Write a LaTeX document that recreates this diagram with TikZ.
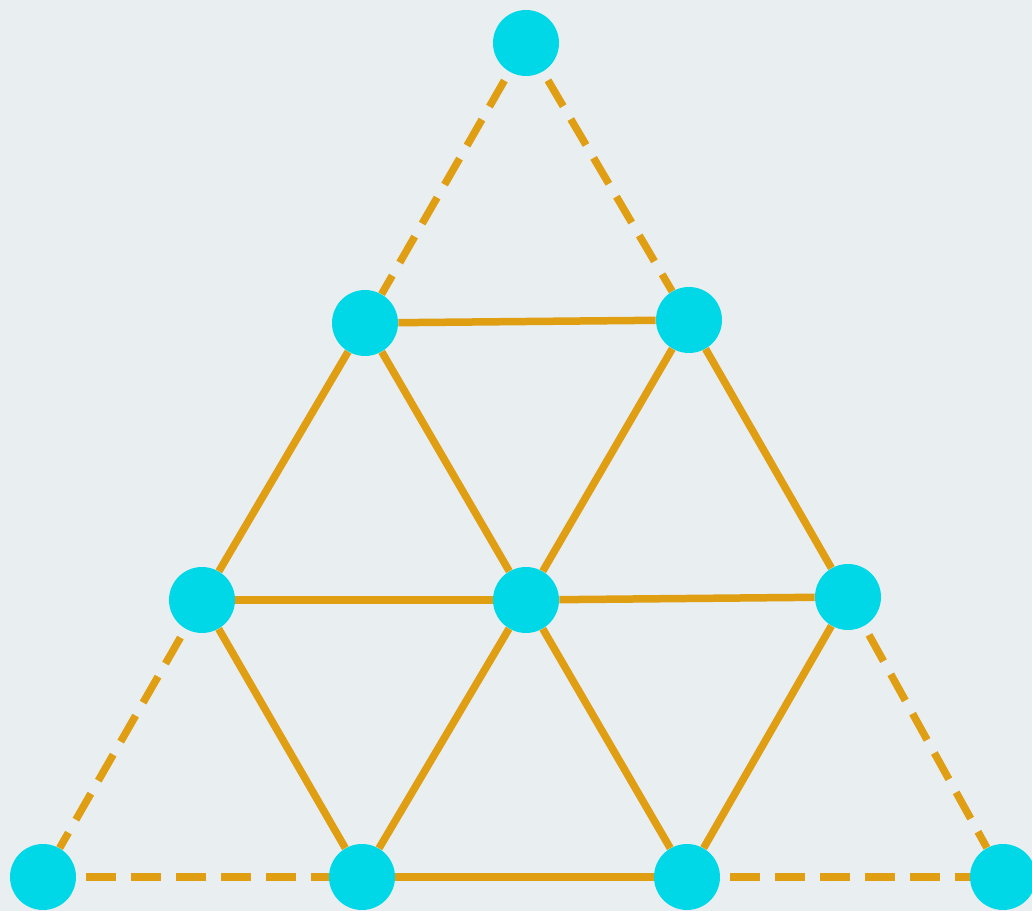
\documentclass[tikz,border=0pt]{standalone}
\usetikzlibrary{positioning}
\definecolor{bgpaper}{HTML}{E9EEF1}
\definecolor{dotcyan}{HTML}{00D8E8}
\definecolor{rodamber}{HTML}{E09E12}
\tikzset{
  pt/.style   ={circle, fill=dotcyan, draw=none, minimum size=1.32cm, inner sep=0pt},
  rod/.style  ={draw=rodamber, line width=0.15cm},
  rodd/.style ={rod, dash pattern=on 0.6cm off 0.3cm, dash phase=0.7cm}
}

\begin{document}
\begin{tikzpicture}[x=0.02cm, y=-0.02cm]
  \clip (0,0) rectangle (1032,911);
  \fill[bgpaper] (0,0) rectangle (1032,911);

  % nodes, row by row
  \node[pt] (t)  at (526,43)  {};
  \node[pt] (l2) at (365,323) {};
  \node[pt] (r2) at (689,320) {};
  \node[pt] (l3) at (202,600) {};
  \node[pt] (m3) at (526,600) {};
  \node[pt] (r3) at (848,597) {};
  \node[pt] (b1) at (43,877)  {};
  \node[pt] (b2) at (362,877) {};
  \node[pt] (b3) at (687,877) {};
  \node[pt] (b4) at (1003,877) {};

  % outer dashed rods
  \draw[rodd] (t)--(l2);  \draw[rodd] (t)--(r2);
  \draw[rodd] (l3)--(b1); \draw[rodd] (r3)--(b4);
  \draw[rodd] (b1)--(b2); \draw[rodd] (b3)--(b4);

  % inner solid rods
  \draw[rod] (l2)--(r2);
  \draw[rod] (l2)--(l3); \draw[rod] (l2)--(m3);
  \draw[rod] (r2)--(m3); \draw[rod] (r2)--(r3);
  \draw[rod] (l3)--(m3); \draw[rod] (m3)--(r3);
  \draw[rod] (l3)--(b2); \draw[rod] (m3)--(b2);
  \draw[rod] (m3)--(b3); \draw[rod] (r3)--(b3);
  \draw[rod] (b2)--(b3);
\end{tikzpicture}
\end{document}
